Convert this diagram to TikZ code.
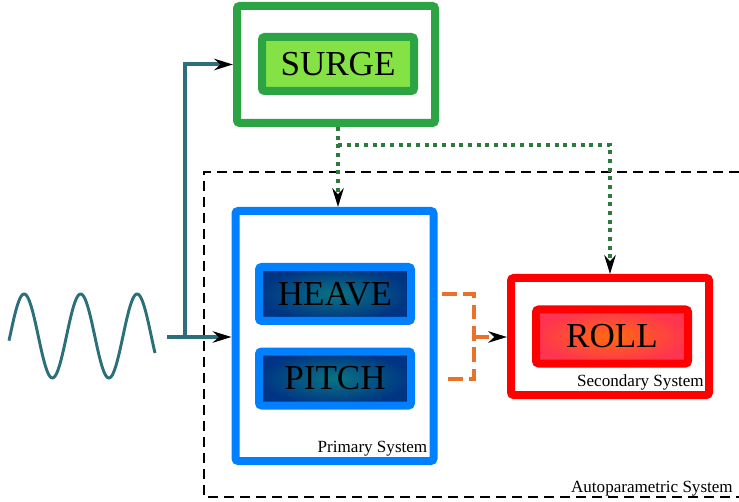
\documentclass[tikz,border=0pt]{standalone}
\usepackage{fontspec}
\setmainfont{Liberation Serif}
\usetikzlibrary{arrows.meta,calc}

\definecolor{surgeline}{HTML}{2CA444}
\definecolor{surgefill}{HTML}{84E244}
\definecolor{primblue}{HTML}{0080FF}
\definecolor{modeteal}{HTML}{0A7482}
\definecolor{modedark}{HTML}{003484}
\definecolor{rollcore}{HTML}{FF6A10}
\definecolor{rolledge}{HTML}{FF3450}
\definecolor{seatteal}{HTML}{2B6F7A}
\definecolor{drivegreen}{HTML}{2E7A3E}
\definecolor{coupleorange}{HTML}{E8722A}

\begin{document}
\begin{tikzpicture}[x=0.75pt, y=-0.75pt,
    sysbox/.style={draw, line width=6pt, rounded corners=2pt, fill=white,
        minimum width=148.5pt, minimum height=87.75pt},
    modebox/.style={draw, line width=6pt, rounded corners=2pt, inner sep=0pt,
        minimum width=114pt, minimum height=40.5pt,
        font=\fontsize{26.3}{28}\selectfont},
    systag/.style={font=\fontsize{12.8}{14}\selectfont, inner sep=0pt},
    arrowtip/.style={-{Stealth[color=black, length=14pt, width=8.5pt, inset=4.5pt]}},
    feed/.style={draw=seatteal, line width=3pt},
    drive/.style={draw=drivegreen, line width=3pt, dash pattern=on 3pt off 3.5pt},
    couple/.style={draw=coupleorange, line width=3pt, dash pattern=on 11pt off 5pt},
]
    \useasboundingbox (0,0) rectangle (739,502);

    % autoparametric frame (runs off the right edge)
    \draw[black, line width=1.5pt, dash pattern=on 7.5pt off 4.5pt]
        (739,172) -- (204,172) -- (204,497) -- (739,497);
    \node[systag, anchor=base east] (autotag) at (733,492) {Autoparametric System};

    % surge
    \node[sysbox, draw=surgeline] (surgebox) at (336,64.5) {};
    \node[modebox, draw=surgeline, fill=surgefill] (surge) at (338,64) {SURGE};

    % primary system
    \node[sysbox, draw=primblue, minimum height=187.5pt] (primary) at (334.5,336) {};
    \node[modebox, draw=primblue, inner color=modeteal, outer color=modedark] (heave) at (335,294) {HEAVE};
    \node[modebox, draw=primblue, inner color=modeteal, outer color=modedark] (pitch) at (335,378.5) {PITCH};
    \node[systag, anchor=base east] (primtag) at ($(primary.south east)+(-10,-13)$) {Primary System};

    % secondary system
    \node[sysbox, draw=red] (secondary) at (610,336.5) {};
    \node[modebox, draw=red, inner color=rollcore, outer color=rolledge] (roll) at (612,336.5) {ROLL};
    \node[systag, anchor=base east] (sectag) at ($(secondary.south east)+(-9,-13)$) {Secondary System};

    % sea input
    \draw[seatteal, line width=2.2pt, domain=9:155, samples=150]
        plot (\x, {336 - 42*sin((\x-10)/56.5*360)});
    \coordinate (src) at (167,337);
    \coordinate (branch) at (185,337);
    \draw[feed, arrowtip] (src) -- (src -| primary.west);
    \draw[feed, arrowtip] (branch) |- (surgebox.west);

    % surge drives both systems
    \coordinate (split) at (338,145);
    \draw[drive, arrowtip] (surge.south |- surgebox.south) -- (surge.south |- primary.north);
    \draw[drive, arrowtip] (split) -| (secondary.north);

    % coupling from heave/pitch into roll
    \coordinate (join) at (474,337);
    \draw[couple] ($(heave.east)+(27,0)$) -| (join) |- ($(pitch.east)+(27,0)$);
    \draw[couple, arrowtip] (join) -- (join -| secondary.west);
\end{tikzpicture}
\end{document}
